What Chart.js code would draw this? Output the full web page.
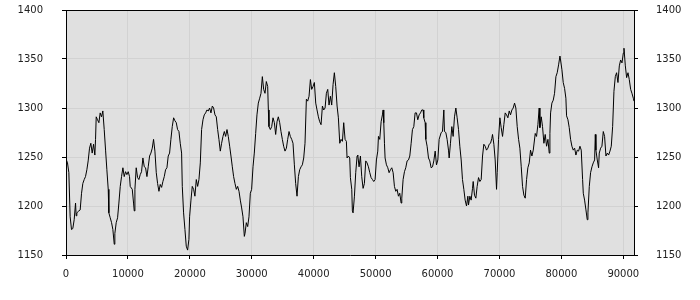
<!DOCTYPE html>
<html>
<head>
<meta charset="utf-8">
<title>Series</title>
<script src="https://cdn.jsdelivr.net/npm/chart.js@4/dist/chart.umd.min.js"></script>
<style>
  html, body { margin: 0; padding: 0; background: #fff; }
  canvas { display: block; }
</style>
</head>
<body>
<canvas id="seriesChart" width="700" height="300"></canvas>
<script>
// --- data ---
const xValues = [
  0, 240, 460, 670, 890, 1100, 1320, 1540, 1640, 1750, 2070, 2290, 2510, 2720, 2940, 3150, 3370, 3580, 3800, 4010,
  4230, 4450, 4660, 4770, 4880, 5090, 5310, 5520, 5740, 5950, 6170, 6390, 6600, 6820, 6920, 7140, 7360, 7570, 7790, 7890,
  8110, 8330, 8540, 8760, 8970, 9190, 9400, 9620, 9830, 10050, 10260, 10370, 10700, 10910, 11020, 11130, 11340, 11560, 11770, 11990,
  12200, 12420, 12640, 12850, 13070, 13280, 13500, 13710, 13930, 14140, 14360, 14580, 14790, 15010, 15220, 15440, 15650, 15870, 16080, 16300,
  16510, 16730, 16940, 17160, 17380, 17590, 17810, 18020, 18240, 18450, 18670, 18780, 18990, 19210, 19420, 19640, 19850, 19960, 20180, 20390,
  20610, 20820, 21040, 21260, 21470, 21690, 21900, 22120, 22330, 22550, 22760, 22980, 23190, 23410, 23630, 23840, 24060, 24270, 24490, 24700,
  24920, 25130, 25350, 25570, 25780, 26000, 26210, 26430, 26640, 26860, 27070, 27290, 27510, 27720, 27940, 28150, 28370, 28580, 28800, 28910,
  29120, 29340, 29550, 29770, 29980, 30200, 30410, 30630, 30840, 31060, 31280, 31490, 31710, 31920, 32140, 32350, 32570, 32680, 32780, 33000,
  33220, 33430, 33650, 33860, 34080, 34290, 34510, 34720, 34940, 35150, 35370, 35590, 35800, 36020, 36230, 36450, 36660, 36880, 37090, 37310,
  37530, 37740, 37960, 38170, 38390, 38600, 38820, 39030, 39250, 39470, 39680, 39900, 40110, 40330, 40540, 40760, 40970, 41190, 41410, 41620,
  41840, 42050, 42270, 42480, 42700, 42910, 43130, 43340, 43560, 43780, 43990, 44210, 44420, 44640, 44850, 45070, 45280, 45390, 45610, 45820,
  45930, 46150, 46250, 46360, 46580, 46790, 47010, 47120, 47330, 47550, 47760, 47980, 48190, 48410, 48620, 48840, 49060, 49270, 49490, 49700,
  49920, 50130, 50350, 50460, 50670, 50890, 51100, 51210, 51320, 51430, 51530, 51750, 51970, 52180, 52400, 52610, 52830, 53040, 53260, 53470,
  53690, 53900, 54120, 54230, 54440, 54660, 54870, 55090, 55310, 55520, 55740, 55950, 56170, 56380, 56600, 56810, 57030, 57250, 57460, 57680,
  57780, 58000, 58110, 58320, 58540, 58750, 58970, 59190, 59400, 59620, 59830, 60050, 60260, 60590, 60800, 61020, 61120, 61340, 61550, 61770,
  61880, 62090, 62310, 62520, 62740, 62960, 63170, 63390, 63600, 63820, 64030, 64250, 64460, 64680, 64900, 65000, 65220, 65430, 65650, 65760,
  65970, 66190, 66400, 66620, 66840, 67050, 67270, 67480, 67700, 67910, 68130, 68340, 68560, 68770, 68880, 69100, 69310, 69530, 69640, 69850,
  70070, 70280, 70500, 70710, 70930, 71150, 71360, 71580, 71790, 72010, 72220, 72440, 72650, 72870, 73090, 73300, 73520, 73730, 73950, 74160,
  74380, 74590, 74810, 75020, 75240, 75460, 75780, 75990, 76210, 76420, 76530, 76750, 76960, 77180, 77390, 77610, 77830, 78040, 78150, 78260,
  78470, 78690, 78900, 79120, 79330, 79550, 79770, 79870, 80090, 80300, 80520, 80730, 80840, 81060, 81270, 81490, 81700, 81920, 82140, 82350,
  82570, 82780, 83000, 83210, 83430, 83540, 83750, 83970, 84180, 84290, 84510, 84720, 84940, 85150, 85370, 85480, 85580, 85800, 86010, 86120,
  86340, 86550, 86770, 86980, 87200, 87420, 87630, 87850, 88060, 88280, 88490, 88710, 88920, 89140, 89360, 89570, 89790, 90000, 90110, 90330,
  90540, 90760, 90970, 91190, 91400, 91620, 91730
];

const seriesValues = [
  1248, 1244, 1234, 1189, 1176, 1177, 1186, 1203, 1190, 1193, 1195, 1196, 1213, 1223, 1227, 1230, 1237, 1246, 1259, 1264,
  1254, 1263, 1252, 1268, 1291, 1288, 1285, 1295, 1291, 1297, 1278, 1257, 1237, 1217, 1193, 1188, 1183, 1176, 1161, 1172,
  1183, 1188, 1203, 1220, 1230, 1239, 1230, 1235, 1232, 1235, 1230, 1220, 1217, 1203, 1195, 1217, 1239, 1229, 1227, 1232,
  1235, 1249, 1240, 1239, 1230, 1240, 1251, 1254, 1259, 1268, 1256, 1234, 1223, 1215, 1222, 1219, 1225, 1230, 1237, 1239,
  1251, 1254, 1268, 1281, 1290, 1287, 1285, 1278, 1276, 1264, 1254, 1220, 1193, 1176, 1159, 1155, 1166, 1189, 1206, 1220,
  1217, 1210, 1227, 1220, 1227, 1244, 1278, 1288, 1293, 1295, 1298, 1297, 1300, 1295, 1302, 1300, 1293, 1291, 1278, 1268,
  1256, 1264, 1271, 1276, 1271, 1278, 1271, 1261, 1251, 1240, 1230, 1223, 1217, 1220, 1215, 1206, 1198, 1189, 1169, 1172,
  1183, 1179, 1189, 1213, 1217, 1240, 1254, 1274, 1293, 1305, 1310, 1315, 1332, 1319, 1315, 1327, 1322, 1298, 1281, 1278,
  1281, 1290, 1285, 1273, 1286, 1291, 1285, 1276, 1268, 1261, 1256, 1259, 1268, 1276, 1271, 1268, 1264, 1242, 1223, 1210,
  1230, 1237, 1240, 1242, 1249, 1264, 1309, 1307, 1312, 1329, 1319, 1322, 1326, 1305, 1298, 1291, 1286, 1283, 1302, 1298,
  1300, 1315, 1319, 1303, 1312, 1303, 1324, 1336, 1322, 1302, 1290, 1264, 1268, 1266, 1285, 1268, 1266, 1249, 1251, 1249,
  1229, 1217, 1195, 1193, 1210, 1234, 1251, 1252, 1240, 1251, 1230, 1218, 1223, 1246, 1244, 1240, 1234, 1229, 1227, 1225,
  1227, 1247, 1256, 1271, 1268, 1286, 1293, 1298, 1285, 1264, 1249, 1242, 1239, 1234, 1237, 1239, 1234, 1220, 1215, 1217,
  1210, 1213, 1203, 1208, 1227, 1235, 1239, 1246, 1247, 1251, 1264, 1278, 1281, 1295, 1295, 1288, 1293, 1295, 1298, 1298,
  1290, 1285, 1268, 1261, 1249, 1246, 1239, 1240, 1246, 1256, 1242, 1247, 1268, 1275, 1276, 1298, 1276, 1275, 1268, 1257,
  1249, 1264, 1281, 1271, 1291, 1300, 1290, 1278, 1261, 1247, 1227, 1217, 1206, 1200, 1210, 1201, 1210, 1206, 1218, 1225,
  1211, 1208, 1220, 1229, 1225, 1227, 1251, 1263, 1261, 1257, 1259, 1263, 1264, 1269, 1273, 1263, 1247, 1217, 1234, 1268,
  1290, 1280, 1271, 1283, 1295, 1293, 1290, 1297, 1293, 1298, 1300, 1305, 1300, 1281, 1268, 1259, 1240, 1220, 1211, 1208,
  1227, 1239, 1244, 1257, 1251, 1257, 1274, 1271, 1283, 1300, 1280, 1291, 1281, 1264, 1273, 1261, 1268, 1254, 1274, 1295,
  1305, 1308, 1315, 1332, 1336, 1344, 1353, 1349, 1339, 1326, 1320, 1310, 1292, 1288, 1280, 1268, 1261, 1257, 1259, 1252,
  1257, 1256, 1261, 1257, 1227, 1213, 1206, 1196, 1186, 1193, 1220, 1234, 1240, 1244, 1247, 1273, 1257, 1247, 1239, 1254,
  1259, 1261, 1276, 1271, 1251, 1254, 1252, 1256, 1261, 1281, 1317, 1332, 1336, 1326, 1343, 1349, 1346, 1356, 1361, 1343,
  1331, 1336, 1329, 1319, 1315, 1310, 1307
];

// tick values on the axes
const xTicks = [0, 10000, 20000, 30000, 40000, 50000, 60000, 70000, 80000, 90000];
const yTicks = [1150, 1200, 1250, 1300, 1350, 1400];

(function () {
    const TEXT = '#222';
    const GRID = '#d2d2d2';

    Chart.defaults.font = { family: 'DejaVu Sans', size: 10 };
    Chart.defaults.color = TEXT;

    // grey plot area + black line along the top (axes draw the other three sides)
    const plotFrame = {
        id: 'plotFrame',
        beforeDraw(chart) {
            const { ctx, chartArea: a } = chart;
            ctx.save();
            ctx.fillStyle = '#e0e0e0';
            ctx.fillRect(a.left, a.top, a.right - a.left, a.bottom - a.top);
            ctx.restore();
        },
        afterDraw(chart) {
            const { ctx, chartArea: a } = chart;
            ctx.save();
            ctx.strokeStyle = '#000';
            ctx.lineWidth = 1;
            ctx.beginPath();
            ctx.moveTo(a.left, a.top + 0.5);
            ctx.lineTo(a.right, a.top + 0.5);
            ctx.stroke();
            ctx.restore();
        }
    };

    const points = xValues.map((x, i) => ({ x: x, y: seriesValues[i] }));
    const asTicks = arr => arr.map(v => ({ value: v }));

    const yAxis = (position, padding) => ({
        type: 'linear',
        position: position,
        min: yTicks[0],
        max: yTicks[yTicks.length - 1],
        grid: {
            color: GRID,
            tickColor: '#000',
            tickLength: 4,
            drawOnChartArea: position === 'left'
        },
        border: { color: '#000' },
        ticks: { padding: padding, color: TEXT, callback: v => String(v) },
        afterBuildTicks(scale) { scale.ticks = asTicks(yTicks); },
        afterFit(scale) {
            // fixed gutter; big label padding must not push the plot down
            scale.width = 66;
            scale.paddingTop = 0;
            scale.paddingBottom = 0;
        }
    });

    new Chart(document.getElementById('seriesChart'), {
        type: 'line',
        data: {
            datasets: [{
                data: points,
                borderColor: '#000',
                borderWidth: 1,
                pointRadius: 0,
                tension: 0,
                fill: false,
                yAxisID: 'y'
            }]
        },
        options: {
            responsive: false,
            animation: false,
            devicePixelRatio: 1,
            layout: { padding: { top: 10, left: 0, right: 0, bottom: 0 } },
            plugins: {
                legend: { display: false },
                tooltip: { enabled: false }
            },
            scales: {
                x: {
                    type: 'linear',
                    min: xTicks[0],
                    max: xValues[xValues.length - 1],
                    grid: { color: GRID, tickColor: '#000', tickLength: 4 },
                    border: { color: '#000' },
                    ticks: {
                        padding: 9,
                        maxRotation: 0,
                        autoSkip: false,
                        color: TEXT,
                        callback: v => String(v)
                    },
                    afterBuildTicks(scale) { scale.ticks = asTicks(xTicks); },
                    afterFit(scale) { scale.height = 45; }
                },
                y: yAxis('left', 19),
                y2: yAxis('right', 18)
            }
        },
        plugins: [plotFrame]
    });
})();
</script>
</body>
</html>
